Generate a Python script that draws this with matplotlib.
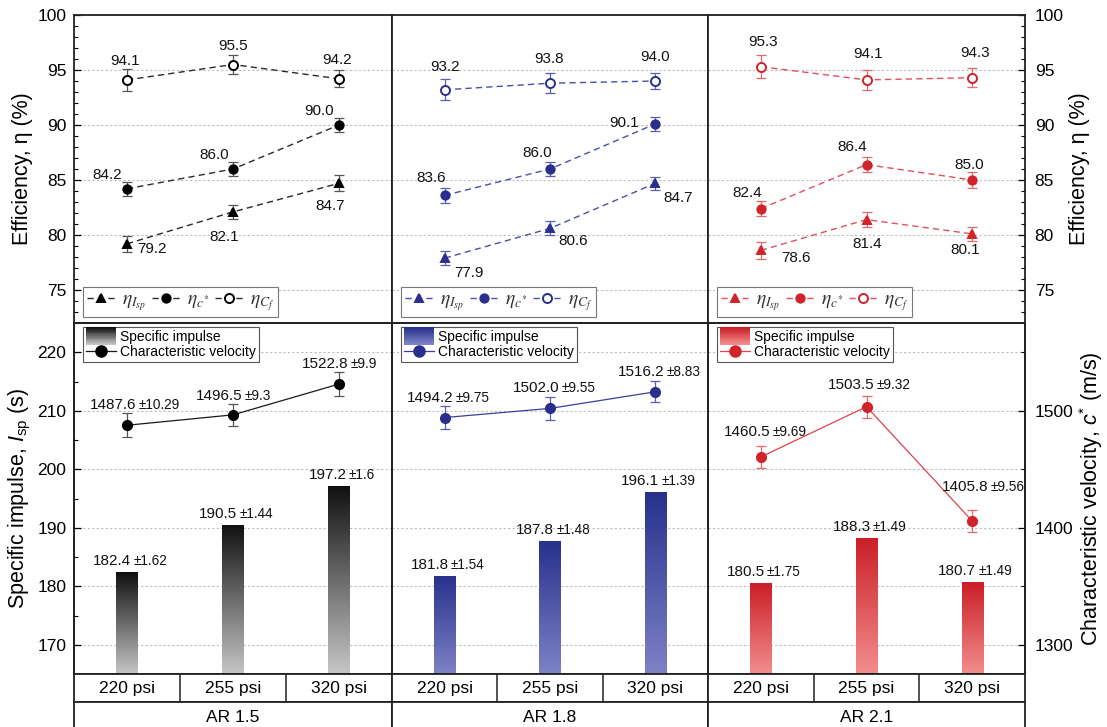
import numpy as np
import matplotlib
matplotlib.use('Agg')
import matplotlib.pyplot as plt
from matplotlib.colors import LinearSegmentedColormap
from matplotlib.patches import Rectangle
from matplotlib.legend_handler import HandlerBase
from matplotlib.lines import Line2D
from matplotlib.font_manager import FontProperties
from matplotlib.offsetbox import TextArea, HPacker, AnnotationBbox
from matplotlib.ticker import MultipleLocator

plt.rcParams['font.family'] = ['Liberation Sans', 'DejaVu Sans']
plt.rcParams['mathtext.fontset'] = 'custom'
plt.rcParams['mathtext.rm'] = 'Liberation Sans'
plt.rcParams['mathtext.it'] = 'Liberation Sans:italic'

# chamber pressures and nozzle area ratios
pressures = ['220 psi', '255 psi', '320 psi']
area_ratios = ['AR 1.5', 'AR 1.8', 'AR 2.1']

# efficiencies (%), one row per area ratio
eta_isp = [[79.2, 82.1, 84.7], [77.9, 80.6, 84.7], [78.6, 81.4, 80.1]]
eta_isp_err = [[0.71, 0.60, 0.71], [0.67, 0.64, 0.61], [0.77, 0.65, 0.67]]
eta_cstar = [[84.2, 86.0, 90.0], [83.6, 86.0, 90.1], [82.4, 86.4, 85.0]]
eta_cstar_err = [[0.64, 0.60, 0.68], [0.68, 0.65, 0.64], [0.70, 0.65, 0.71]]
eta_cf = [[94.1, 95.5, 94.2], [93.2, 93.8, 94.0], [95.3, 94.1, 94.3]]
eta_cf_err = [[0.97, 0.86, 0.79], [0.94, 0.91, 0.76], [1.07, 0.91, 0.88]]

# specific impulse (s) and characteristic velocity (m/s)
isp = [[182.4, 190.5, 197.2], [181.8, 187.8, 196.1], [180.5, 188.3, 180.7]]
isp_err = [[1.62, 1.44, 1.6], [1.54, 1.48, 1.39], [1.75, 1.49, 1.49]]
cstar = [[1487.6, 1496.5, 1522.8], [1494.2, 1502.0, 1516.2], [1460.5, 1503.5, 1405.8]]
cstar_err = [[10.29, 9.3, 9.9], [9.75, 9.55, 8.83], [9.69, 9.32, 9.56]]

# label nudges in pixels (dx, dy)
off_cf = [[(-2, 19), (0, 19), (-2, 19)], [(0, 23), (-1, 24), (0, 24)], [(2, 25), (2, 26), (3, 25)]]
off_cs = [[(-20, 14), (-19, 14), (-20, 14)], [(-13, 17), (-13, 16), (-31, 1)], [(-14, 16), (-14, 18), (-3, 15)]]
off_is = [[(25, -5), (-9, -25), (-9, -23)], [(24, -15), (23, -13), (23, -15)], [(35, -8), (1, -24), (-7, -16)]]
off_cv = [[(8, 1), (0, 1), (0, 1)], [(4, 1), (4, 2), (4, 2)], [(4, 7), (3, 4), (11, 16)]]

styles = [
    dict(mk='#000000', dash='#2a2a2a', err='#555555', line='#1a1a1a',
         grad=['#c6c6c6', '#101010']),
    dict(mk='#2b2f8c', dash='#4a4fa8', err='#5a5fb4', line='#3a3f9e',
         grad=['#7e82c6', '#27318c']),
    dict(mk='#d1232b', dash='#e05058', err='#e46a6a', line='#e0434a',
         grad=['#f28e8e', '#cb1e26']),
]

W, H = 1107, 727
fig = plt.figure(figsize=(W / 100, H / 100), dpi=100)
cols = [74, 392, 708, 1025]


def px_axes(x0, y0, x1, y1):
    return fig.add_axes([x0 / W, 1 - y1 / H, (x1 - x0) / W, (y1 - y0) / H])


def style_spines(ax):
    for s in ax.spines.values():
        s.set_linewidth(1.3)
        s.set_color('#222222')


class GradientHandler(HandlerBase):
    def __init__(self, cmap, steps=20):
        super().__init__()
        self.cmap = cmap
        self.steps = steps

    def create_artists(self, legend, orig_handle, xdescent, ydescent,
                       width, height, fontsize, trans):
        h = height * 1.5
        y0 = -ydescent - 0.25 * height
        return [Rectangle((-xdescent, y0 + h * k / self.steps), width, h / self.steps * 1.05,
                          facecolor=self.cmap(k / (self.steps - 1)), edgecolor='none',
                          lw=0, transform=trans)
                for k in range(self.steps)]


def pm_label(ax, x, y, text, err, dx, dy):
    main = TextArea(text, textprops=dict(fontsize=11, color='#111111'))
    sub = TextArea(f'±{err:g}', textprops=dict(fontsize=9.8, color='#111111'))
    box = HPacker(children=[main, sub], align='baseline', pad=0, sep=1.5)
    ab = AnnotationBbox(box, (x, y), xybox=(dx, dy), xycoords='data',
                        boxcoords='offset pixels', box_alignment=(0.5, 0),
                        frameon=False, pad=0, zorder=5)
    ax.add_artist(ab)


def set_yticks(ax, side, pad):
    ax.tick_params(axis='y', which='both', left=(side == 'left'), right=(side == 'right'),
                   labelleft=(side == 'left'), labelright=(side == 'right'), pad=pad)


x = np.arange(len(pressures))
tick_kw = dict(direction='in', width=0.9, labelsize=12.5)
math_prop = FontProperties(size=14, math_fontfamily='stix')

for j in range(3):
    st = styles[j]
    cmap = LinearSegmentedColormap.from_list(f'g{j}', st['grad'])
    side = {0: 'left', 1: 'none', 2: 'right'}[j]

    # efficiency panel
    ax = px_axes(cols[j], 15, cols[j + 1], 323)
    axw = cols[j + 1] - cols[j]
    series = [
        (eta_isp[j], eta_isp_err[j], '^', st['mk'], off_is[j], r'$\eta_{I_{sp}}$'),
        (eta_cstar[j], eta_cstar_err[j], 'o', st['mk'], off_cs[j], r'$\eta_{c^{*}}$'),
        (eta_cf[j], eta_cf_err[j], 'o', 'white', off_cf[j], r'$\eta_{C_f}$'),
    ]
    for vals, errs, mk, fill, offs, lab in series:
        ax.errorbar(x, vals, yerr=errs, fmt='none', ecolor=st['err'], elinewidth=0.9,
                    capsize=3.3, capthick=0.9, zorder=2)
        ax.plot(x, vals, ls=(0, (4.5, 3)), lw=1, color=st['dash'], marker=mk,
                ms=6.5 if fill == 'white' else 6, mfc=fill, mec=st['mk'], mew=1.4,
                zorder=3, label=lab)
        for k, v in enumerate(vals):
            ax.annotate(f'{v:.1f}', (x[k], v), xytext=offs[k], textcoords='offset pixels',
                        ha='center', va='center', fontsize=11, color='#111111')
    ax.set_xlim(-0.5, 2.5)
    ax.set_ylim(72, 100)
    ax.set_xticks([])
    ax.yaxis.set_major_locator(MultipleLocator(5))
    ax.yaxis.set_minor_locator(MultipleLocator(1))
    ax.grid(axis='y', which='major', color='#bdbdbd', ls=(0, (2, 2)), lw=0.8)
    ax.set_axisbelow(True)
    ax.tick_params(axis='y', which='major', length=5, **tick_kw)
    ax.tick_params(axis='y', which='minor', length=3, direction='in', width=0.8)
    style_spines(ax)
    leg = ax.legend(loc='lower left', bbox_to_anchor=(9 / axw, 6 / 308), borderaxespad=0,
                    ncol=3, prop=math_prop, handlelength=1.5, handletextpad=0.3,
                    columnspacing=0.3, borderpad=0.2, fancybox=False,
                    edgecolor='#777777', framealpha=1, numpoints=1)
    leg.get_frame().set_linewidth(0.8)
    for t in leg.get_texts():
        t.set_color('#333333')
    if side == 'left':
        set_yticks(ax, 'left', 5.5)
        ax.set_ylabel('Efficiency, η (%)', fontsize=15.5)
        ax.yaxis.set_label_coords(-0.13, 0.5)
    elif side == 'right':
        set_yticks(ax, 'right', 7)
        ax.yaxis.set_label_position('right')
        ax.set_ylabel('Efficiency, η (%)', fontsize=15.5)
        ax.yaxis.set_label_coords(1.14, 0.5)
    else:
        set_yticks(ax, 'none', 0)

    # specific impulse bars + characteristic velocity line
    ax = px_axes(cols[j], 323, cols[j + 1], 674)
    ax2 = ax.twinx()
    ax.set_xlim(-0.5, 2.5)
    ax.set_ylim(165, 225)
    bars = ax.bar(x, isp[j], width=0.2, color='none', edgecolor='none', zorder=2)
    y_floor = ax.get_ylim()[0]
    grad = np.linspace(0, 1, 256).reshape(-1, 1)
    for rect, v, e in zip(bars, isp[j], isp_err[j]):
        x0 = rect.get_x()
        im = ax.imshow(grad, cmap=cmap, origin='lower', aspect='auto', zorder=2,
                       extent=(x0, x0 + rect.get_width(), y_floor, v))
        im.set_clip_path(rect)
        pm_label(ax, rect.get_x() + rect.get_width() / 2, v, f'{v:.1f}', e, 3, 4)
    ax.set_xlim(-0.5, 2.5)
    ax.set_ylim(165, 225)
    ax.set_xticks([])
    ax.yaxis.set_major_locator(MultipleLocator(10))
    ax.yaxis.set_minor_locator(MultipleLocator(5))
    ax.grid(axis='y', which='major', color='#bdbdbd', ls=(0, (2, 2)), lw=0.8)
    ax.set_axisbelow(True)
    ax.tick_params(axis='y', which='major', length=5, **tick_kw)
    ax.tick_params(axis='y', which='minor', length=3, direction='in', width=0.8)
    style_spines(ax)
    if side == 'left':
        set_yticks(ax, 'left', 5.5)
        ax.set_ylabel(r'Specific impulse, $I_{\mathrm{sp}}$ (s)', fontsize=15.5)
        ax.yaxis.set_label_coords(-0.13, 0.5)
    else:
        set_yticks(ax, 'none', 0)

    ax2.set_ylim(1275, 1575)
    ax2.errorbar(x, cstar[j], yerr=cstar_err[j], fmt='none', ecolor=st['err'],
                 elinewidth=0.9, capsize=3.3, capthick=0.9, zorder=2)
    ax2.plot(x, cstar[j], '-', color=st['line'], lw=0.9, marker='o', ms=7,
             mfc=st['mk'], mec=st['mk'], zorder=3)
    for k, (v, e) in enumerate(zip(cstar[j], cstar_err[j])):
        dx, dy = off_cv[j][k]
        pm_label(ax2, x[k], v + e, f'{v:.1f}', e, dx, dy)
    ax2.yaxis.set_major_locator(MultipleLocator(100))
    ax2.yaxis.set_minor_locator(MultipleLocator(50))
    ax2.tick_params(axis='y', which='major', length=5, **tick_kw)
    ax2.tick_params(axis='y', which='minor', length=3, direction='in', width=0.8)
    style_spines(ax2)
    if side == 'right':
        set_yticks(ax2, 'right', 7)
        ax2.set_ylabel(r'Characteristic velocity, $c^{*}$ (m/s)', fontsize=15.5)
        ax2.yaxis.set_label_coords(1.165, 0.5)
    else:
        set_yticks(ax2, 'none', 0)

    proxy = Rectangle((0, 0), 1, 1)
    line_h = Line2D([], [], color=st['line'], lw=0.9, marker='o', ms=8,
                    mfc=st['mk'], mec=st['mk'])
    leg = ax2.legend([proxy, line_h], ['Specific impulse', 'Characteristic velocity'],
                     handler_map={proxy: GradientHandler(cmap)}, loc='upper left',
                     bbox_to_anchor=(9 / axw, 1 - 4 / 351), borderaxespad=0,
                     fontsize=10, handlelength=2.2, handleheight=0.9,
                     handletextpad=0.3, labelspacing=0.1, borderpad=0.2,
                     fancybox=False, edgecolor='#555555', framealpha=1)
    leg.get_frame().set_linewidth(0.8)

    # table rows under each panel
    t1 = px_axes(cols[j], 674, cols[j + 1], 702)
    t1.set_xlim(-0.5, 2.5)
    t1.set_ylim(0, 1)
    t1.set_xticks([])
    t1.set_yticks([])
    for b in x[:-1] + 0.5:
        t1.axvline(b, color='#222222', lw=1.1)
    for k, lab in enumerate(pressures):
        t1.text(x[k], 0.5, lab, ha='center', va='center', fontsize=12.5)
    style_spines(t1)

    t2 = px_axes(cols[j], 702, cols[j + 1], 732)
    t2.set_xticks([])
    t2.set_yticks([])
    t2.text(0.5, 0.5, area_ratios[j], ha='center', va='center', fontsize=12.5,
            transform=t2.transAxes)
    style_spines(t2)
    t2.spines['bottom'].set_visible(False)

fig.savefig('out.png', dpi=100)
